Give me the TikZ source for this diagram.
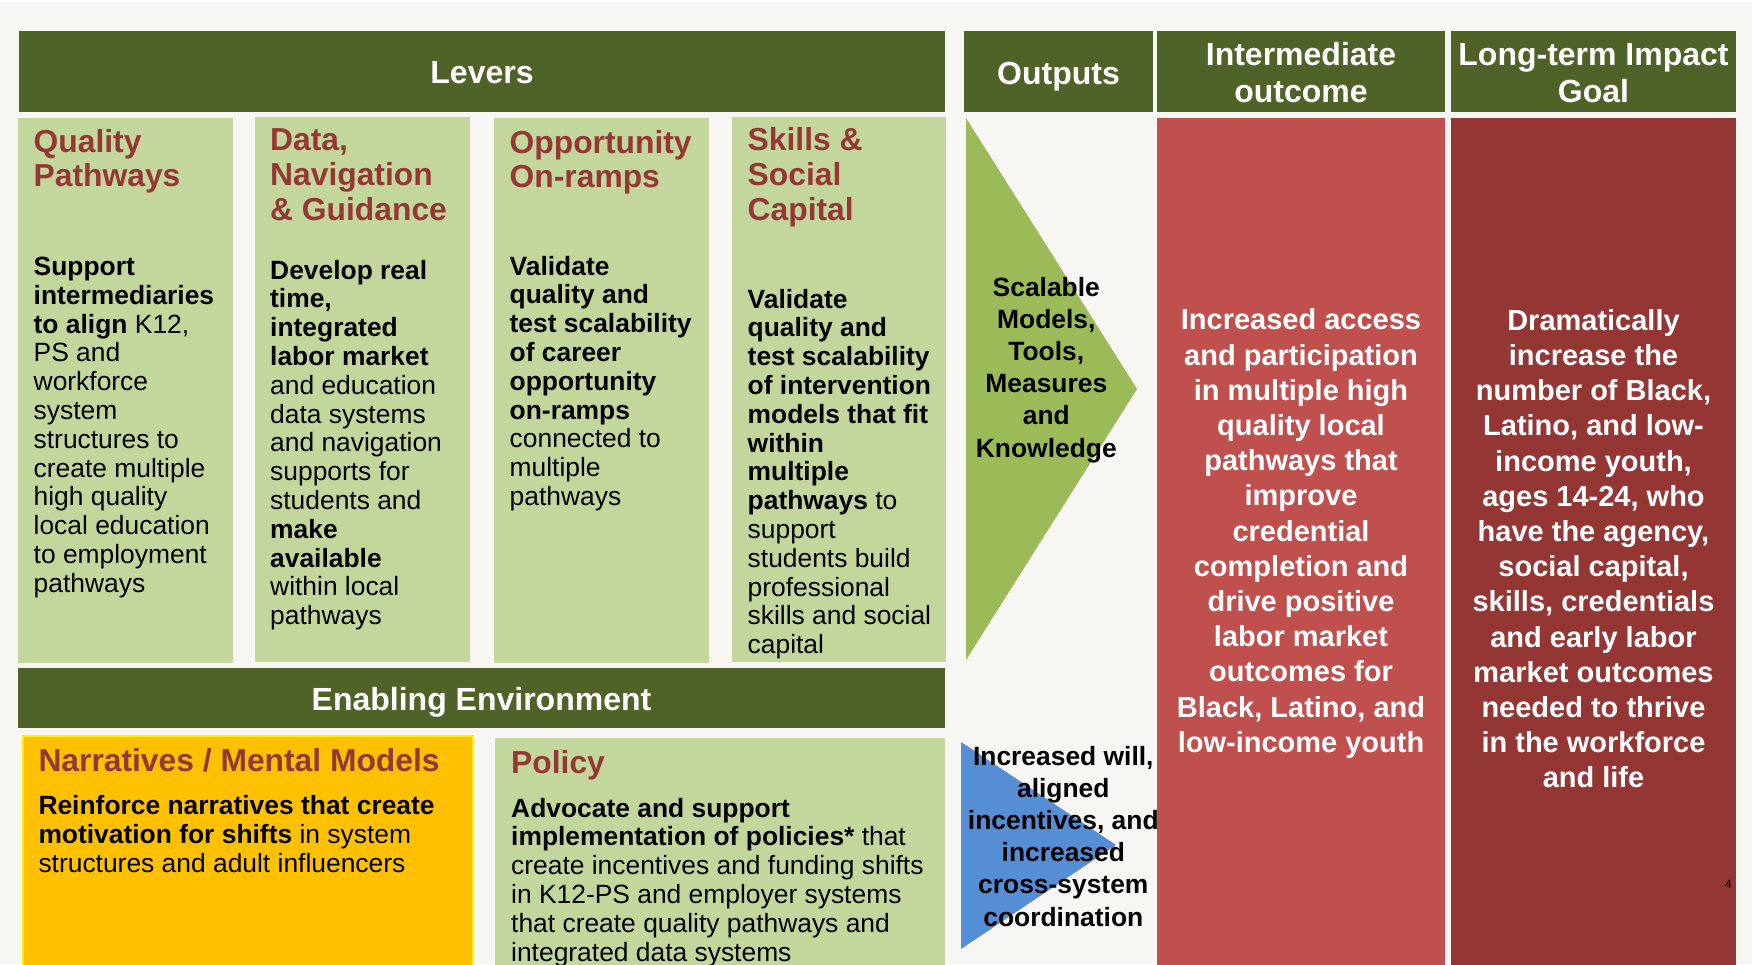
\documentclass[tikz,border=0pt]{standalone}
\usepackage{fontspec}
\setmainfont{Liberation Sans}
\definecolor{pagebg}{HTML}{F7F6F2}
\definecolor{hdrgreen}{HTML}{4F6228}
\definecolor{lightgreen}{HTML}{C3D69B}
\definecolor{titlered}{HTML}{953735}
\definecolor{midred}{HTML}{C0504D}
\definecolor{deepred}{HTML}{943634}
\definecolor{chevgreen}{HTML}{9BBB59}
\definecolor{arrowblue}{HTML}{558ED5}
\definecolor{amber}{HTML}{FFC000}
\definecolor{amberedge}{HTML}{FFF200}
\begin{document}
% Multi-line text nodes are placed by the baseline of their LAST line.
\begin{tikzpicture}[x=1pt,y=-1pt,
  hdrtext/.style={text=white,font=\bfseries\fontsize{32}{36.7}\selectfont,align=center,inner sep=0,anchor=base},
  ltitle/.style={text=titlered,font=\bfseries\fontsize{31.8}{34.7}\selectfont,align=left,inner sep=0,anchor=base west},
  lbody/.style={text=black,font=\fontsize{26.4}{28.8}\selectfont,align=left,inner sep=0,anchor=base west},
  outtext/.style={text=black,font=\bfseries\fontsize{26.4}{32.1}\selectfont,align=center,inner sep=0,anchor=base},
  coltext/.style={text=white,font=\bfseries\fontsize{29}{35.2}\selectfont,align=center,inner sep=0,anchor=base}]
\useasboundingbox (0,0) rectangle (1752,964);
\clip (0,0) rectangle (1752,964);
\fill[pagebg] (0,0) rectangle (1752,964);
\fill[white] (0,0) rectangle (1752,2);

% column headers
\fill[hdrgreen] (19,31) rectangle (945,112);
\fill[hdrgreen] (964,31) rectangle (1153,112);
\fill[hdrgreen] (1157,31) rectangle (1445,112);
\fill[hdrgreen] (1451,31) rectangle (1736,112);
\node[hdrtext] (levers) at (482,83) {Levers};
\node[hdrtext] (outputs) at (1058.5,84) {Outputs};
\node[hdrtext] (inter) at (1301,102) {Intermediate\\outcome};
\node[hdrtext] (longterm) at (1593.5,102) {Long-term Impact\\Goal};

% lever boxes
\fill[lightgreen] (18,118) rectangle (233,663);
\fill[lightgreen] (255,117) rectangle (470,662);
\fill[lightgreen] (494,118) rectangle (709,663);
\fill[lightgreen] (732,117) rectangle (946,662);

\node[ltitle] (t1) at (33.5,186.8) {Quality\\Pathways};
\node[lbody] (b1) at (33.5,592.3) {\textbf{Support}\\\textbf{intermediaries}\\\textbf{to align} K12,\\PS and\\workforce\\system\\structures to\\create multiple\\high quality\\local education\\to employment\\pathways};

\node[ltitle] (t2) at (270,220) {Data,\\Navigation\\\& Guidance};
\node[lbody] (b2) at (270,624.6) {\textbf{Develop real}\\\textbf{time,}\\\textbf{integrated}\\\textbf{labor market}\\and education\\data systems\\and navigation\\supports for\\students and\\\textbf{make}\\\textbf{available}\\within local\\pathways};

\node[ltitle] (t3) at (509.5,187.8) {Opportunity\\On-ramps};
\node[lbody] (b3) at (509.5,505.4) {\textbf{Validate}\\\textbf{quality and}\\\textbf{test scalability}\\\textbf{of career}\\\textbf{opportunity}\\\textbf{on-ramps}\\connected to\\multiple\\pathways};

\node[ltitle] (t4) at (747.5,220) {Skills \&\\Social\\Capital};
\node[lbody] (b4) at (747.5,653.6) {\textbf{Validate}\\\textbf{quality and}\\\textbf{test scalability}\\\textbf{of intervention}\\\textbf{models that fit}\\\textbf{within}\\\textbf{multiple}\\\textbf{pathways} to\\support\\students build\\professional\\skills and social\\capital};

% enabling environment
\fill[hdrgreen] (18,668) rectangle (945,728);
\node[hdrtext] (enabling) at (481.5,710.5) {Enabling Environment};

\fill[amber,draw=amberedge,line width=1.5pt] (23,736) rectangle (473,990);
\node[ltitle] (t5) at (38.3,771.2) {Narratives / Mental Models};
\node[lbody] (b5) at (38.3,872.1) {\textbf{Reinforce narratives that create}\\\textbf{motivation for shifts} in system\\structures and adult influencers};

\fill[lightgreen] (495,738) rectangle (945,990);
\node[ltitle] (t6) at (511,773.5) {Policy};
\node[lbody] (b6) at (511,961) {\textbf{Advocate and support}\\\textbf{implementation of policies*} that\\create incentives and funding shifts\\in K12-PS and employer systems\\that create quality pathways and\\integrated data systems};

% outputs: chevrons
\fill[chevgreen] (966,118) -- (1137,389) -- (966,660) -- cycle;
\node[outtext] (models) at (1046.3,457) {Scalable\\Models,\\Tools,\\Measures\\and\\Knowledge};
\fill[arrowblue] (961,742) -- (1116,845) -- (961,949) -- cycle;
\node[outtext] (will) at (1063.3,926) {Increased will,\\aligned\\incentives, and\\increased\\cross-system\\coordination};

% outcome columns
\fill[midred] (1157,118) rectangle (1445,990);
\fill[deepred] (1451,118) rectangle (1736,990);
\node[coltext] (outcome) at (1301,752.2) {Increased access\\and participation\\in multiple high\\quality local\\pathways that\\improve\\credential\\completion and\\drive positive\\labor market\\outcomes for\\Black, Latino, and\\low-income youth};
\node[coltext] (goal) at (1593.5,787.9) {Dramatically\\increase the\\number of Black,\\Latino, and low-\\income youth,\\ages 14-24, who\\have the agency,\\social capital,\\skills, credentials\\and early labor\\market outcomes\\needed to thrive\\in the workforce\\and life};

\node[font=\fontsize{12}{14}\selectfont,inner sep=0,anchor=base] (pageno) at (1728.5,888.3) {4};
\end{tikzpicture}
\end{document}
